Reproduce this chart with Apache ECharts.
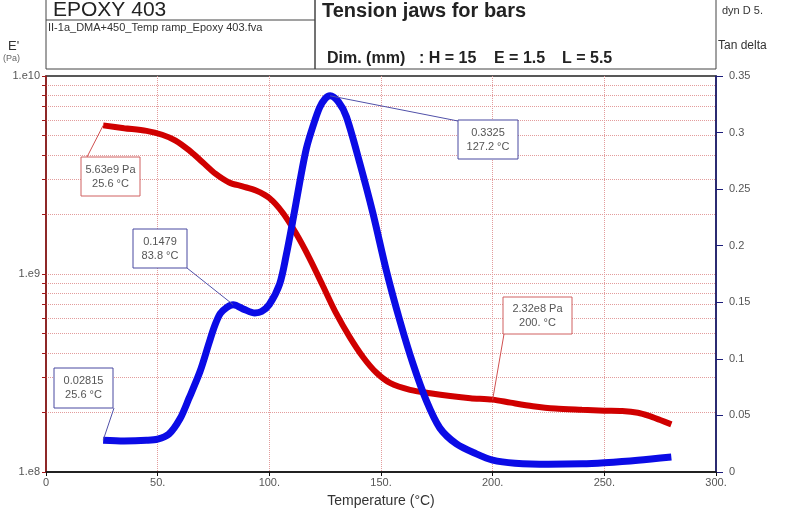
<!DOCTYPE html>
<html>
<head>
<meta charset="utf-8">
<script src="https://cdn.jsdelivr.net/npm/echarts@6/dist/echarts.min.js"></script>
<style>
  html, body { margin: 0; padding: 0; background: #fff; }
  #chart { width: 795px; height: 530px; }
</style>
</head>
<body>
<div id="chart"></div>
<script>
// Storage modulus E' (Pa) vs temperature
const tempE = [25.6, 35, 45, 52, 58, 64, 70, 76, 82, 88, 94, 100, 106, 112, 118, 124, 130, 136, 142, 148,
  154, 163, 172, 181, 190, 200, 208, 218, 228, 240, 250, 258, 265, 270, 275, 280];
const modulus = [5.63e9, 5.45e9, 5.28e9, 5.05e9, 4.72e9, 4.22e9, 3.68e9, 3.2e9, 2.9e9, 2.77e9, 2.64e9, 2.42e9,
  2.04e9, 1.6e9, 1.2e9, 8.7e8, 6.3e8, 4.8e8, 3.8e8, 3.17e8, 2.82e8, 2.6e8, 2.5e8, 2.42e8, 2.36e8, 2.32e8,
  2.24e8, 2.15e8, 2.09e8, 2.06e8, 2.04e8, 2.03e8, 1.99e8, 1.92e8, 1.83e8, 1.74e8];

// Tan delta vs temperature
const tempTan = [25.6, 35, 45, 50, 55, 60, 64, 69, 73, 75.5, 78, 81, 83.8, 89, 93.5, 96.5, 100, 104.6, 107.6,
  110.6, 113.6, 116.6, 119.6, 122.5, 125, 127.2, 131, 134.5, 140.5, 146.4, 152.4, 158.4, 164.3, 170.3, 176.3,
  183.8, 192.7, 200, 210, 225, 240, 250, 265, 280];
const tanDelta = [0.02815, 0.0275, 0.028, 0.029, 0.0334, 0.047, 0.065, 0.089, 0.114, 0.129, 0.140, 0.1456,
  0.1479, 0.1435, 0.1406, 0.1418, 0.148, 0.166, 0.192, 0.223, 0.256, 0.286, 0.306, 0.322, 0.330, 0.3325,
  0.327, 0.314, 0.273, 0.2286, 0.178, 0.134, 0.0957, 0.063, 0.039, 0.0248, 0.016, 0.0105, 0.0078, 0.0068,
  0.0072, 0.0082, 0.0104, 0.0133];

// tick values
const logMajor = [1e8, 1e9, 1e10];
const logTicks = [1e8, 2e8, 3e8, 4e8, 5e8, 6e8, 7e8, 8e8, 9e8, 1e9, 2e9, 3e9, 4e9, 5e9, 6e9, 7e9, 8e9, 9e9, 1e10];

// cursor notes: [temperature, value, line 1, line 2]
const modulusNotes = [
  [25.6, 5.63e9, '5.63e9 Pa', '25.6 °C'],
  [200, 2.32e8, '2.32e8 Pa', '200. °C']
];
const tanNotes = [
  [25.6, 0.02815, '0.02815', '25.6 °C'],
  [83.8, 0.1479, '0.1479', '83.8 °C'],
  [127.2, 0.3325, '0.3325', '127.2 °C']
];
// where the note boxes sit (px) and where their leader line starts
const modulusBoxes = [
  { x: 81, y: 157, w: 59, h: 39, lx: 87, ly: 157 },
  { x: 503, y: 297, w: 69, h: 37, lx: 504, ly: 334 }
];
const tanBoxes = [
  { x: 54, y: 368, w: 59, h: 40, lx: 114, ly: 408 },
  { x: 133, y: 229, w: 54, h: 39, lx: 187, ly: 268 },
  { x: 458, y: 120, w: 60, h: 39, lx: 458, ly: 121 }
];

const RED = '#d00000';
const BLUE = '#0b0be6';
const GRID = '#e39c9c';
const FONT = '"Liberation Sans", Arial, sans-serif';

const chart = echarts.init(document.getElementById('chart'));

chart.setOption({
  animation: false,
  textStyle: { fontFamily: FONT },
  grid: { left: 46, right: 79, top: 76, bottom: 58, show: true, borderColor: '#222', borderWidth: 1.5 },
  xAxis: {
    type: 'value',
    min: 0,
    max: 300,
    interval: 50,
    name: 'Temperature (°C)',
    nameLocation: 'middle',
    nameGap: 22,
    nameTextStyle: { fontSize: 14, color: '#333' },
    axisLine: { lineStyle: { color: '#111', width: 1.5 } },
    axisTick: { length: 4, lineStyle: { color: '#111' } },
    axisLabel: { color: '#555', fontSize: 11, margin: 5, formatter: v => (v === 0 ? '0' : v + '.') },
    splitLine: { show: true, showMinLine: false, showMaxLine: false, lineStyle: { type: 'dotted', color: GRID } }
  },
  yAxis: [
    {
      type: 'log',
      logBase: 10,
      min: 1e8,
      max: 1e10,
      position: 'left',
      axisLine: { show: true, lineStyle: { color: '#a01818', width: 1.5 } },
      axisTick: { show: true, length: 4, customValues: logTicks, lineStyle: { color: '#a01818' } },
      axisLabel: {
        color: '#555',
        fontSize: 11,
        margin: 6,
        customValues: logMajor,
        formatter: v => '1.e' + Math.round(Math.log10(v))
      },
      splitLine: { show: true, showMinLine: false, showMaxLine: false, lineStyle: { type: 'dotted', color: GRID } }
    },
    {
      type: 'value',
      min: 0,
      max: 0.35,
      interval: 0.05,
      position: 'right',
      axisLine: { show: true, lineStyle: { color: '#1c1c7a', width: 1.5 } },
      axisTick: { show: true, length: 7, lineStyle: { color: '#1c1c7a' } },
      axisLabel: { color: '#555', fontSize: 11, margin: 13 },
      splitLine: { show: false }
    }
  ],
  series: [
    {
      name: "E'",
      type: 'line',
      yAxisIndex: 0,
      data: tempE.map((t, i) => [t, modulus[i]]),
      smooth: 0.3,
      showSymbol: false,
      lineStyle: { color: RED, width: 6 },
      z: 3
    },
    {
      name: 'Tan delta',
      type: 'line',
      yAxisIndex: 1,
      data: tempTan.map((t, i) => [t, tanDelta[i]]),
      smooth: 0.3,
      showSymbol: false,
      lineStyle: { color: BLUE, width: 7 },
      z: 4
    }
  ]
});

// header block and side texts
const header = [
  { type: 'rect', shape: { x: 46, y: -1, width: 269, height: 70 }, style: { fill: 'none', stroke: '#444', lineWidth: 1 } },
  { type: 'rect', shape: { x: 315, y: -1, width: 401, height: 70 }, style: { fill: 'none', stroke: '#444', lineWidth: 1 } },
  { type: 'line', shape: { x1: 46, y1: 20, x2: 315, y2: 20 }, style: { stroke: '#444', lineWidth: 1 } },
  { type: 'text', style: { x: 53, y: 0, text: 'EPOXY 403', font: '21px ' + FONT, fill: '#222' } },
  { type: 'text', style: { x: 48, y: 22, text: 'II-1a_DMA+450_Temp ramp_Epoxy 403.fva', font: '11px ' + FONT, fill: '#333' } },
  { type: 'text', style: { x: 322, y: 1, text: 'Tension jaws for bars', font: 'bold 20px ' + FONT, fill: '#222' } },
  { type: 'text', style: { x: 327, y: 51, text: 'Dim. (mm)', font: 'bold 16px ' + FONT, fill: '#222' } },
  { type: 'text', style: { x: 419, y: 51, text: ': H = 15', font: 'bold 16px ' + FONT, fill: '#222' } },
  { type: 'text', style: { x: 494, y: 51, text: 'E = 1.5', font: 'bold 16px ' + FONT, fill: '#222' } },
  { type: 'text', style: { x: 562, y: 51, text: 'L = 5.5', font: 'bold 16px ' + FONT, fill: '#222' } },
  { type: 'text', style: { x: 722, y: 5, text: 'dyn D 5.', font: '11px ' + FONT, fill: '#333' } },
  { type: 'text', style: { x: 718, y: 40, text: 'Tan delta', font: '12px ' + FONT, fill: '#333' } },
  { type: 'text', style: { x: 8, y: 40, text: "E'", font: '13px ' + FONT, fill: '#333' } },
  { type: 'text', style: { x: 3, y: 54, text: '(Pa)', font: '9px ' + FONT, fill: '#666' } }
];

function noteGraphics(notes, boxes, yAxisIndex, lineColor, boxColor) {
  const out = [];
  notes.forEach((n, i) => {
    const b = boxes[i];
    const p = chart.convertToPixel({ xAxisIndex: 0, yAxisIndex: yAxisIndex }, [n[0], n[1]]);
    out.push({ type: 'line', z: 10, shape: { x1: b.lx, y1: b.ly, x2: p[0], y2: p[1] }, style: { stroke: lineColor, lineWidth: 1 } });
    out.push({ type: 'rect', z: 11, shape: { x: b.x, y: b.y, width: b.w, height: b.h }, style: { fill: '#fff', stroke: boxColor, lineWidth: 1 } });
    out.push({
      type: 'text', z: 12,
      style: {
        x: b.x + b.w / 2, y: b.y + b.h / 2, text: n[2] + '\n' + n[3],
        align: 'center', verticalAlign: 'middle', font: '11px ' + FONT, lineHeight: 14, fill: '#555'
      }
    });
  });
  return out;
}

chart.setOption({
  graphic: header
    .concat(noteGraphics(modulusNotes, modulusBoxes, 0, '#d05050', '#d06060'))
    .concat(noteGraphics(tanNotes, tanBoxes, 1, '#5050a8', '#4848a0'))
});

window.addEventListener('resize', function () {
  chart.resize();
});
</script>
</body>
</html>
